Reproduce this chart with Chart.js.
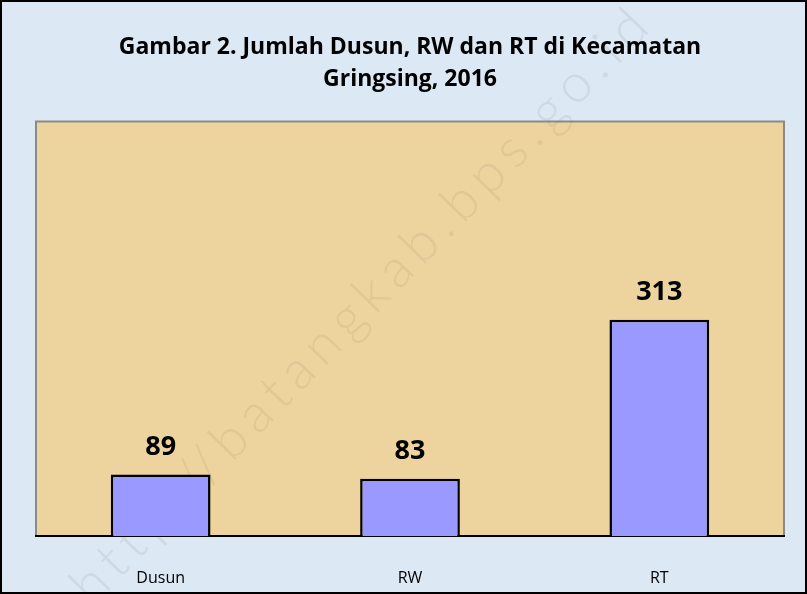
<!DOCTYPE html>
<html lang="id">
<head>
<meta charset="UTF-8">
<title>Jumlah Dusun, RW dan RT di Kecamatan Gringsing, 2016</title>
<style>
  body {
    margin: 0;
    padding: 0;
    background: #dce8f4;
  }
  #wrap {
    width: 807px;
    height: 594px;
  }
</style>
<script src="https://cdn.jsdelivr.net/npm/chart.js@4.4.1/dist/chart.umd.min.js"></script>
</head>
<body>
<div id="wrap">
  <canvas id="chart" width="807" height="594"></canvas>
</div>

<script>
// data
const categories = ['Dusun', 'RW', 'RT'];
const jumlah = [89, 83, 313];
const titleLines = ['Gambar 2. Jumlah Dusun, RW dan RT di Kecamatan', 'Gringsing, 2016'];
const watermark = 'http://batangkab.bps.go.id';

// latar belakang, bingkai dan label nilai
const hiasan = {
  id: 'hiasan',
  beforeDraw(chart) {
    const ctx = chart.ctx;
    const a = chart.chartArea;
    ctx.save();
    ctx.fillStyle = '#dce8f4';
    ctx.fillRect(0, 0, chart.width, chart.height);
    ctx.fillStyle = '#edd49e';
    ctx.fillRect(a.left, a.top, a.right - a.left, a.bottom - a.top);
    ctx.strokeStyle = '#8a8a8a';
    ctx.lineWidth = 2;
    ctx.beginPath();
    ctx.moveTo(a.left, a.bottom);
    ctx.lineTo(a.left, a.top);
    ctx.lineTo(a.right, a.top);
    ctx.lineTo(a.right, a.bottom);
    ctx.stroke();

    // watermark
    ctx.translate(80, 595);
    ctx.rotate(-Math.PI * 0.255);
    ctx.fillStyle = 'rgba(120, 110, 100, 0.12)';
    ctx.font = '300 54px Lato, "Open Sans", sans-serif';
    ctx.letterSpacing = '8px';
    ctx.textAlign = 'left';
    ctx.textBaseline = 'middle';
    ctx.fillText(watermark, 0, 0);
    ctx.restore();
  },
  afterDraw(chart) {
    const ctx = chart.ctx;
    const meta = chart.getDatasetMeta(0);
    ctx.save();
    ctx.fillStyle = '#000';
    ctx.font = 'bold 27px "Open Sans", sans-serif';
    ctx.textAlign = 'center';
    ctx.textBaseline = 'alphabetic';
    meta.data.forEach((bar, i) => {
      ctx.fillText(jumlah[i], bar.x, bar.y - 20);
    });
    ctx.restore();

    ctx.save();
    ctx.strokeStyle = '#000';
    ctx.lineWidth = 2;
    ctx.strokeRect(1, 1, chart.width - 2, chart.height - 2);
    ctx.restore();
  }
};

const ctx = document.getElementById('chart').getContext('2d');
new Chart(ctx, {
  type: 'bar',
  data: {
    labels: categories,
    datasets: [{
      data: jumlah,
      backgroundColor: '#9999ff',
      borderColor: '#000000',
      borderWidth: 2.5,
      barPercentage: 0.4,
      categoryPercentage: 1.0
    }]
  },
  options: {
    responsive: false,
    animation: false,
    layout: {
      padding: { left: 36, right: 23, top: 0, bottom: 0 }
    },
    plugins: {
      legend: { display: false },
      tooltip: { enabled: false },
      title: {
        display: true,
        text: titleLines,
        color: '#000',
        font: { family: '"Open Sans", sans-serif', size: 23, weight: 'bold', lineHeight: 1.4 },
        padding: { top: 31, bottom: 26 }
      }
    },
    scales: {
      x: {
        grid: { display: false, drawTicks: false },
        border: { display: true, color: '#000', width: 2 },
        ticks: {
          color: '#000',
          font: { family: '"Open Sans", sans-serif', size: 16 },
          padding: 33
        },
        afterFit(scale) {
          scale.height = 58;
        }
      },
      y: {
        display: false,
        min: 0,
        max: 600
      }
    }
  },
  plugins: [hiasan]
});
</script>
</body>
</html>
